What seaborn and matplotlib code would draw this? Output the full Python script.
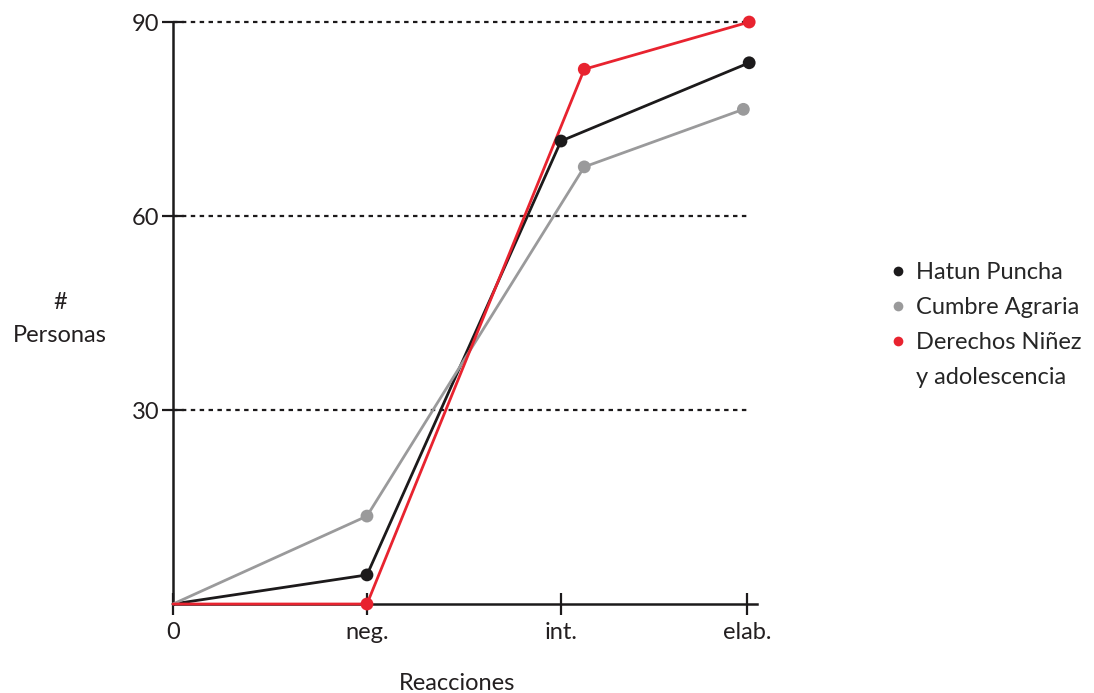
import numpy as np
import pandas as pd
import seaborn as sns
import matplotlib.pyplot as plt
from matplotlib.lines import Line2D

sns.set_style("white")
plt.rcParams['font.family'] = ['Lato', 'DejaVu Sans']

# data
series = ["Hatun Puncha", "Cumbre Agraria", "Derechos Niñez y adolescencia"]
colors = ["#1c1a1b", "#9a9a9b", "#e8232f"]
tick_pos = [0, 1, 2, 2.96]
tick_labels = ["0", "neg.", "int.", "elab."]

hatun_x = [0, 1, 2.0, 2.97]
hatun_y = [0, 4.5, 71.6, 83.7]
cumbre_x = [0, 1, 2.12, 2.94]
cumbre_y = [0, 13.6, 67.6, 76.5]
derechos_x = [0, 1, 2.12, 2.97]
derechos_y = [0, 0, 82.7, 90]

df = pd.concat([
    pd.DataFrame({"x": hatun_x, "y": hatun_y, "serie": series[0]}),
    pd.DataFrame({"x": cumbre_x, "y": cumbre_y, "serie": series[1]}),
    pd.DataFrame({"x": derechos_x, "y": derechos_y, "serie": series[2]}),
], ignore_index=True)

fig = plt.figure(figsize=(10.94, 6.93), dpi=100)
ax = fig.add_axes([0.1581, 0.1284, 0.5338, 0.8398])

# dotted gridlines
for yv in [30, 60, 90]:
    ax.hlines(yv, 0, tick_pos[-1], colors="#1c1a1b", linestyles=(0, (2, 2)), lw=1.6,
              zorder=1, clip_on=False)

sns.lineplot(data=df, x="x", y="y", hue="serie", palette=colors, sort=False,
             lw=2, legend=False, ax=ax, clip_on=False, zorder=3)
# no marker at the origin
sns.scatterplot(data=df[df["x"] > 0], x="x", y="y", hue="serie", palette=colors,
                s=85, linewidth=0, legend=False, ax=ax, clip_on=False, zorder=4)

ax.set_xlim(0, 3.01)
ax.set_ylim(0, 90)
ax.set_xticks(tick_pos)
ax.set_xticklabels(tick_labels)
ax.set_yticks([30, 60, 90])
ax.tick_params(axis="both", bottom=True, left=True, direction="inout", length=16, width=1.6,
               color="#1c1a1b", labelsize=17, labelcolor="#231f20", pad=2)
ax.tick_params(axis="x", pad=5)
for s in ["top", "right"]:
    ax.spines[s].set_visible(False)
for s in ["left", "bottom"]:
    ax.spines[s].set_color("#1c1a1b")
    ax.spines[s].set_linewidth(1.8)

ax.set_xlabel("")
ax.set_ylabel("")
fig.text(457 / 1094, 1 - 683 / 693, "Reacciones", ha="center", va="center", fontsize=17, color="#231f20")
fig.text(60 / 1094, 1 - 319 / 693, "#\nPersonas", ha="center", va="center", fontsize=17,
         color="#231f20", linespacing=1.65)

# legend: marker sits on the first line of the wrapped label
handles = [Line2D([], [], ls="", marker="o", markersize=7, markeredgewidth=0, color=c) for c in colors]
handles.append(Line2D([], [], ls="", marker=""))
leg_labels = ["Hatun Puncha", "Cumbre Agraria", "Derechos Niñez", "y adolescencia"]
leg = fig.legend(handles, leg_labels, loc="upper left", bbox_to_anchor=(884 / 1094, 1 - 262 / 693),
                 frameon=False, fontsize=17, handletextpad=0.15, labelspacing=0.6,
                 handlelength=1.2, borderpad=0, borderaxespad=0)

fig.savefig("out.png", dpi=100)
